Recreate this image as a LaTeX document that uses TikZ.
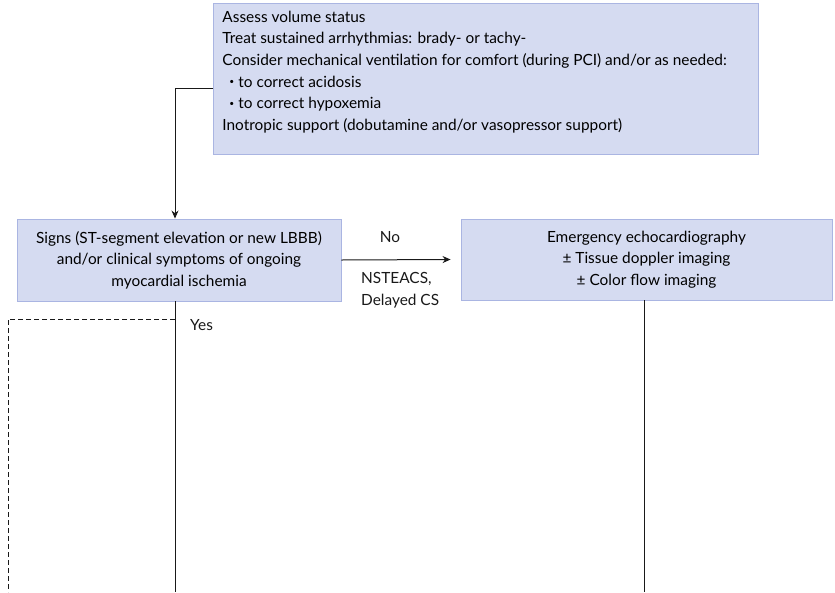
\documentclass[tikz,border=0pt]{standalone}
\usepackage{fontspec}
\usepackage{graphicx}
\setmainfont{Lato}
\usetikzlibrary{arrows.meta}
\definecolor{boxfill}{RGB}{213,219,241}
\definecolor{boxline}{RGB}{170,181,226}
\definecolor{ink}{RGB}{25,25,25}
\newcommand{\smallbullet}{\hspace*{7pt}\raisebox{2.2pt}{\scalebox{0.55}{\textbullet}}\hspace{4pt}}
\begin{document}
\begin{tikzpicture}[x=1pt,y=-1pt,
  font=\fontsize{15.4}{21.6}\selectfont,
  box/.style={draw=boxline, fill=boxfill, line width=0.9pt, inner sep=0pt},
  wire/.style={draw=ink, line width=1pt},
  arrow/.style={wire, -{Stealth[length=8pt,width=7pt]}},
  lbl/.style={inner sep=0pt, text=ink}]
\useasboundingbox (0,0) rectangle (835,592);

% management box
\node[box, anchor=north west] (care) at (213,3)
  {\begin{minipage}[t][151pt][t]{545pt}
   \setlength{\parindent}{0pt}\leftskip=9pt
   \vspace*{7.5pt}%
   Assess volume status\par
   Treat sustained arrhythmias: brady- or tachy-\par
   Consider mechanical ventilation for comfort (during PCI) and/or as needed:\par
   \smallbullet to correct acidosis\par
   \smallbullet to correct hypoxemia\par
   Inotropic support (dobutamine and/or vasopressor support)\par
   \end{minipage}};

% decision box
\node[box, minimum width=324pt, minimum height=82pt, align=center] (signs) at (179,260)
  {Signs (ST-segment elevation or new LBBB)\\
   and/or clinical symptoms of ongoing\\
   myocardial ischemia};

% echo box
\node[box, minimum width=371pt, minimum height=81pt, align=center] (echo) at (646.5,259.5)
  {Emergency echocardiography\\
   ± Tissue doppler imaging\\
   ± Color flow imaging};

% free ends at the lower edge
\coordinate (yesend) at (175,592);
\coordinate (echoend) at (644,592);
\coordinate (dashturn) at (8,319);
\coordinate (dashend) at (8,592);
\coordinate (dashstart) at (175,319);

% care -> signs
\draw[arrow] (care.west |- 0,88) -| ([xshift=-4pt]signs.north);

% signs -> echo (No)
\draw[arrow] (signs.east) -- ([xshift=-10pt]echo.west);
\node[lbl] (no) at (390,237) {No};
\node[lbl, anchor=west, align=left] (nste) at (361,290) {NSTEACS,\\Delayed CS};

% signs -> down (Yes)
\draw[wire] ([xshift=-4pt]signs.south) -- (yesend);
\node[lbl, anchor=west] (yes) at (190,325) {Yes};

% dashed branch
\draw[draw=ink, line width=0.9pt, dash pattern=on 5pt off 3pt] (dashstart) -- (dashturn) -- (dashend);

% echo -> down
\draw[wire] (echo.south -| echoend) -- (echoend);
\end{tikzpicture}
\end{document}
